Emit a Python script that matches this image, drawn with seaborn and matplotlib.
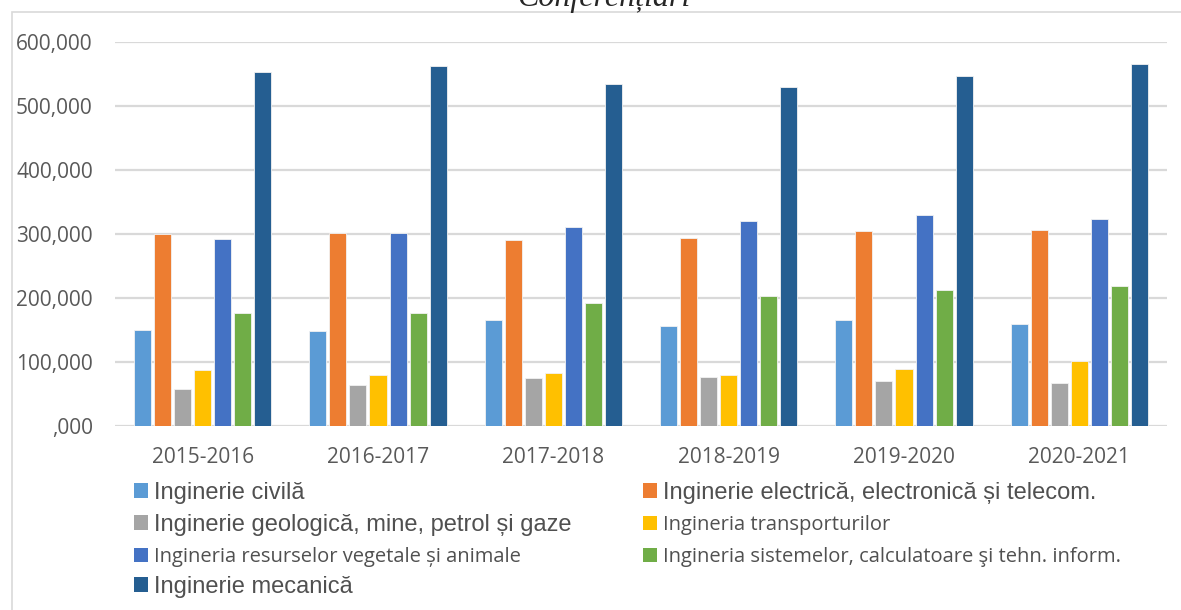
import matplotlib
matplotlib.use('Agg')
import matplotlib.pyplot as plt
import seaborn as sns
import pandas as pd
from matplotlib.patches import Patch, Rectangle

# anii universitari
ani = ['2015-2016', '2016-2017', '2017-2018', '2018-2019', '2019-2020', '2020-2021']

# valori (aproximative)
civila      = [150000, 148000, 165000, 156000, 165000, 159000]
electrica   = [300000, 301000, 290000, 293000, 304000, 306000]
geologica   = [58000, 64000, 75000, 76000, 70000, 67000]
transport   = [87000, 79000, 83000, 80000, 89000, 101000]
resurse     = [292000, 301000, 311000, 320000, 329000, 324000]
sisteme     = [176000, 176000, 192000, 203000, 212000, 219000]
mecanica    = [553000, 562000, 534000, 530000, 547000, 565000]

domenii = ['Inginerie civilă',
           'Inginerie electrică, electronică și telecom.',
           'Inginerie geologică, mine, petrol și gaze',
           'Ingineria transporturilor',
           'Ingineria resurselor vegetale și animale',
           'Ingineria sistemelor, calculatoare şi tehn. inform.',
           'Inginerie mecanică']
culori = ['#5B9BD5', '#ED7D31', '#A5A5A5', '#FFC000', '#4472C4', '#70AD47', '#255E91']

y_ticks = [0, 100000, 200000, 300000, 400000, 500000, 600000]
y_labels = [',000', '100,000', '200,000', '300,000', '400,000', '500,000', '600,000']

serii = [civila, electrica, geologica, transport, resurse, sisteme, mecanica]
rows = []
for dom, vals in zip(domenii, serii):
    for an, v in zip(ani, vals):
        rows.append({'an': an, 'domeniu': dom, 'valoare': v})
df = pd.DataFrame(rows)

sns.set_style('white')
plt.rcParams['font.family'] = ['Open Sans', 'DejaVu Sans']

fig = plt.figure(figsize=(11.81, 6.10), dpi=100)
ax = fig.add_axes([115/1181, 1 - 426/610, 1052/1181, 384/610])

sns.barplot(data=df, x='an', y='valoare', hue='domeniu', hue_order=domenii,
            palette=culori, saturation=1, width=0.8, gap=0.15, legend=False,
            ax=ax, edgecolor='#f2f2f2', linewidth=0.6)

ax.set_ylim(0, 600000)
ax.set_xlim(-0.5, 5.5)
ax.set_yticks(y_ticks)
ax.set_yticklabels(y_labels)
ax.yaxis.grid(True, color='#d9d9d9', linewidth=1.6)
ax.set_axisbelow(True)
for s in ax.spines.values():
    s.set_visible(False)
ax.tick_params(axis='both', length=0, colors='#595959', labelsize=15)
ax.tick_params(axis='y', pad=16)
ax.tick_params(axis='x', pad=15)
ax.set_xlabel('')
ax.set_ylabel('')

# chenarul graficului
fig.patches.append(Rectangle((12/1181, -0.1), 1.2, 1 - 12/610 + 0.1,
                             transform=fig.transFigure, fill=False,
                             edgecolor='#d9d9d9', linewidth=1.2))

# titlu (taiat sus, ca in original)
fig.text(604/1181, 1 - 6/610, 'Conferențiari', ha='center', va='baseline',
         fontsize=23, style='italic', family=['Liberation Serif', 'DejaVu Serif'])

# legenda in doua coloane (fonturi diferite, ca in original)
arial = ['Liberation Sans', 'DejaVu Sans']
segoe = ['Open Sans', 'DejaVu Sans']
fonturi = [(arial, 17), (arial, 17), (arial, 17), (segoe, 14.5),
           (segoe, 14.5), (segoe, 14.5), (arial, 17)]
randuri = [493, 525, 557, 587]


def legenda(idx, x_mark):
    # fiecare intrare ca legenda separata, pentru pozitionare exacta
    for r, i in zip(randuri, idx):
        fam, sz = fonturi[i]
        lg = fig.legend([Patch(facecolor=culori[i], edgecolor='none')], [domenii[i]],
                        loc='center left', bbox_to_anchor=(x_mark, 1 - r/610),
                        bbox_transform=fig.transFigure, frameon=False,
                        borderpad=0, borderaxespad=0,
                        handlelength=14/(sz*100/72), handleheight=14/(sz*100/72),
                        handletextpad=6/(sz*100/72),
                        prop={'family': fam, 'size': sz})
        lg.get_texts()[0].set_color('#505050')


legenda([0, 2, 4, 6], 134/1181)
legenda([1, 3, 5], 643/1181)

fig.savefig('out.png', dpi=100)
